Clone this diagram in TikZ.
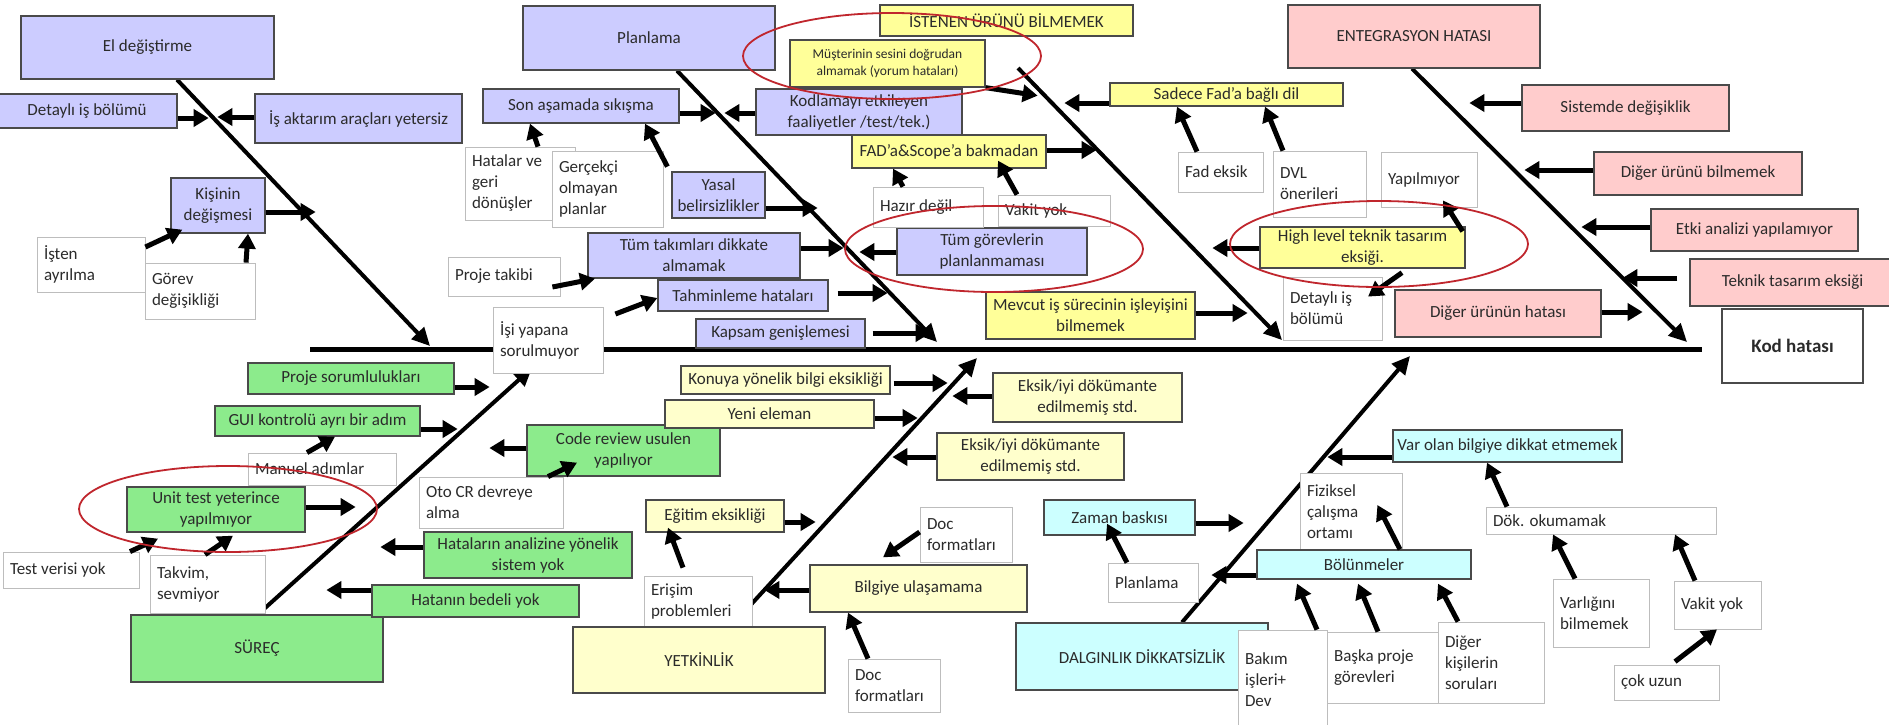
\documentclass[tikz,border=0pt]{standalone}
\usepackage{fontspec}
\setmainfont{Carlito}
\usetikzlibrary{arrows.meta,calc,shapes.geometric}
\pgfdeclarelayer{bones}
\pgfsetlayers{bones,main}

\definecolor{boxP}{HTML}{CCCCFF}
\definecolor{boxY}{HTML}{FFFF99}
\definecolor{boxL}{HTML}{FFFFCC}
\definecolor{boxK}{HTML}{FFCCCC}
\definecolor{boxG}{HTML}{8CEB8C}
\definecolor{boxC}{HTML}{CCFFFF}
\definecolor{edgegray}{HTML}{4A4A4A}
\definecolor{thingray}{HTML}{BDBDBD}
\definecolor{ink}{HTML}{2B2B2B}
\definecolor{redring}{HTML}{C0262D}

% coloured box: centred text, box given by its corners (x1,y1,x2,y2) in pixel units
\newcommand\boxC[7]{%
  \pgfmathsetmacro\bxw{#5-#3}\pgfmathsetmacro\bxh{#6-#4}%
  \pgfmathsetmacro\bxx{(#3+#5)/2}\pgfmathsetmacro\bxy{(#4+#6)/2}%
  \node[#1,minimum width=\bxw pt,minimum height=\bxh pt] (#2) at (\bxx,\bxy) {#7};}
% white note box: left aligned text
\newcommand\boxW[7]{%
  \pgfmathsetmacro\bxw{#5-#3-14}\pgfmathsetmacro\bxh{#6-#4}%
  \pgfmathsetmacro\bxx{(#3+#5)/2}\pgfmathsetmacro\bxy{(#4+#6)/2}%
  \node[#1,text width=\bxw pt,minimum height=\bxh pt] (#2) at (\bxx,\bxy) {#7};}

\tikzset{
  cbase/.style={draw=edgegray,line width=1.3pt,text=ink,align=center,inner sep=2pt,
    font=\fontsize{17}{21}\selectfont},
  purp/.style={cbase,fill=boxP},
  yel/.style={cbase,fill=boxY},
  ltyel/.style={cbase,fill=boxL},
  pink/.style={cbase,fill=boxK},
  grn/.style={cbase,fill=boxG},
  cyn/.style={cbase,fill=boxC},
  wbox/.style={draw=thingray,line width=0.8pt,fill=white,text=ink,align=flush left,
    inner xsep=7pt,inner ysep=2pt,font=\fontsize{17}{21}\selectfont},
  arr/.style={line width=5pt,-{Triangle[length=15pt,width=17pt]}},
  bone/.style={line width=4pt,-{Triangle[length=18pt,width=17pt]}},
  ring/.style={draw=redring,line width=1.8pt,ellipse,minimum width=298,minimum height=86}
}

\begin{document}
\begin{tikzpicture}[x=1pt,y=-1pt]
\useasboundingbox (0,0) rectangle (1889,724);

% ---------- head ----------
\boxC{cbase,fill=white,font=\bfseries\fontsize{19}{23}\selectfont}{kod}{1722}{309}{1863}{383}{Kod hatası}

% ---------- upper causes: El değiştirme ----------
\boxC{purp}{elchg}{21}{16}{274}{79}{El değiştirme}
\boxC{purp}{detay1}{-3}{94}{177}{128}{Detaylı iş bölümü}
\boxC{purp}{isakt}{255}{94}{462}{143}{İş aktarım araçları yetersiz}
\boxC{purp}{kisinin}{171}{178}{265}{233}{Kişinin\\değişmesi}
\boxW{wbox}{isten}{37}{237}{145}{292}{İşten\\ayrılma}
\boxW{wbox}{gorev}{145}{263}{255}{319}{Görev\\değişikliği}

% ---------- upper causes: Planlama ----------
\boxC{purp}{planlama}{523}{6}{775}{70}{Planlama}
\boxC{purp}{sonasama}{483}{89}{679}{123}{Son aşamada sıkışma}
\boxC{purp}{kodlama}{756}{89}{962}{135}{Kodlamayı etkileyen\\faaliyetler /test/tek.)}
\boxW{wbox}{hatalar}{465}{147}{575}{220}{Hatalar ve\\geri\\dönüşler}
\boxW{wbox}{gercekci}{552}{151}{663}{227}{Gerçekçi\\olmayan\\planlar}
\boxC{purp}{yasal}{672}{172}{765}{218}{Yasal\\belirsizlikler}
\boxC{purp}{tumtak}{588}{233}{800}{278}{Tüm takımları dikkate\\almamak}
\boxC{purp}{tumgor}{897}{228}{1087}{275}{Tüm görevlerin\\planlanmaması}
\boxW{wbox}{projetak}{448}{257}{560}{296}{Proje takibi}
\boxC{purp}{tahmin}{658}{280}{828}{311}{Tahminleme hataları}
\boxW{wbox}{isiyapana}{493}{307}{603}{373}{İşi yapana\\sorulmuyor}
\boxC{purp}{kapsam}{696}{319}{865}{348}{Kapsam genişlemesi}

% ---------- upper causes: İstenen ürünü bilmemek ----------
\boxC{yel}{istenen}{880}{5}{1133}{36}{İSTENEN ÜRÜNÜ BİLMEMEK}
\boxC{yel,font=\fontsize{13.5}{17}\selectfont}{musteri}{790}{40}{985}{87}{Müşterinin sesini doğrudan\\almamak (yorum hataları)}
\boxC{yel}{sadece}{1110}{83}{1343}{106}{Sadece Fad'a bağlı dil}
\boxC{yel}{fad}{852}{135}{1046}{168}{FAD'a\&Scope'a bakmadan}
\boxW{wbox}{hazir}{873}{187}{983}{227}{Hazır değil}
\boxW{wbox}{vakit1}{998}{195}{1110}{226}{Vakit yok}
\boxW{wbox}{fadeksik}{1178}{152}{1263}{192}{Fad eksik}
\boxW{wbox}{dvl}{1273}{151}{1366}{217}{DVL\\önerileri}
\boxW{wbox}{yapilmiyor}{1381}{152}{1477}{207}{Yapılmıyor}
\boxC{yel}{highlvl}{1260}{227}{1465}{268}{High level teknik tasarım\\eksiği.}
\boxW{wbox}{detay2}{1283}{277}{1382}{340}{Detaylı iş\\bölümü}
\boxC{yel}{mevcut}{986}{292}{1195}{339}{Mevcut iş sürecinin işleyişini\\bilmemek}

% ---------- upper causes: Entegrasyon hatası ----------
\boxC{pink}{entegr}{1288}{5}{1540}{68}{ENTEGRASYON HATASI}
\boxC{pink}{sistemde}{1522}{85}{1729}{131}{Sistemde değişiklik}
\boxC{pink}{digerurun}{1594}{152}{1802}{195}{Diğer ürünü bilmemek}
\boxC{pink}{etki}{1651}{209}{1858}{251}{Etki analizi yapılamıyor}
\boxC{pink}{teknik}{1690}{259}{1895}{306}{Teknik tasarım eksiği}
\boxC{pink}{digerhata}{1395}{290}{1601}{337}{Diğer ürünün hatası}

% ---------- lower causes: Süreç ----------
\boxC{grn}{projesor}{248}{363}{454}{394}{Proje sorumlulukları}
\boxC{grn}{gui}{215}{406}{420}{436}{GUI kontrolü ayrı bir adım}
\boxW{wbox}{manuel}{248}{453}{396}{485}{Manuel adımlar}
\boxC{grn}{unittest}{127}{487}{305}{532}{Unit test yeterince\\yapılmıyor}
\boxW{wbox}{testveri}{3}{552}{139}{588}{Test verisi yok}
\boxW{wbox}{takvim}{150}{555}{265}{613}{Takvim,\\sevmiyor}
\boxC{grn}{surec}{131}{615}{383}{682}{SÜREÇ}
\boxW{wbox}{otocr}{419}{477}{563}{528}{Oto CR devreye\\alma}
\boxC{grn}{codereview}{527}{425}{720}{476}{Code review usulen\\yapılıyor}
\boxC{grn}{hatanaliz}{424}{532}{632}{578}{Hataların analizine yönelik\\sistem yok}
\boxC{grn}{hatabedel}{372}{585}{579}{617}{Hatanın bedeli yok}

% ---------- lower causes: Yetkinlik ----------
\boxC{ltyel}{konuya}{681}{366}{890}{394}{Konuya yönelik bilgi eksikliği}
\boxC{ltyel}{yeni}{665}{400}{874}{428}{Yeni eleman}
\boxC{ltyel}{eksik1}{993}{373}{1182}{422}{Eksik/iyi dökümante\\edilmemiş std.}
\boxC{ltyel}{eksik2}{937}{433}{1124}{480}{Eksik/iyi dökümante\\edilmemiş std.}
\boxC{ltyel}{egitim}{646}{500}{784}{532}{Eğitim eksikliği}
\boxW{wbox}{erisim}{644}{576}{752}{627}{Erişim\\problemleri}
\boxC{ltyel}{bilgiye}{810}{565}{1027}{612}{Bilgiye ulaşamama}
\boxW{wbox}{doc1}{920}{507}{1012}{562}{Doc\\formatları}
\boxW{wbox}{doc2}{848}{659}{940}{712}{Doc\\formatları}
\boxC{ltyel}{yetkin}{573}{627}{825}{693}{YETKİNLİK}

% ---------- lower causes: Dalgınlık ----------
\boxC{cyn}{zaman}{1044}{500}{1195}{535}{Zaman baskısı}
\boxW{wbox}{planlama2}{1108}{563}{1198}{602}{Planlama}
\boxW{wbox}{fiziksel}{1300}{473}{1402}{550}{Fiziksel\\çalışma\\ortamı}
\boxC{cyn}{bolun}{1257}{550}{1471}{579}{Bölünmeler}
\boxC{cyn}{varolan}{1393}{430}{1622}{462}{Var olan bilgiye dikkat etmemek}
\boxW{wbox}{dok}{1486}{507}{1716}{534}{Dök. okumamak}
\boxW{wbox}{varlik}{1553}{579}{1649}{647}{Varlığını\\bilmemek}
\boxW{wbox}{vakit2}{1674}{581}{1761}{629}{Vakit yok}
\boxW{wbox}{cokuzun}{1614}{665}{1719}{700}{çok uzun}
\boxC{cyn}{dalgin}{1016}{623}{1268}{690}{DALGINLIK DİKKATSİZLİK}
\boxW{wbox}{bakim}{1238}{630}{1327}{730}{Bakım\\işleri+\\Dev}
\boxW{wbox}{baska}{1327}{632}{1440}{703}{Başka proje\\görevleri}
\boxW{wbox}{digerkisi}{1438}{622}{1544}{703}{Diğer\\kişilerin\\soruları}

% ---------- spine and main bones (behind the boxes) ----------
\coordinate (s0) at (310,349);
\coordinate (s1) at (1702,349);
\coordinate (t1) at (430,346);
\coordinate (t2) at (937,342);
\coordinate (t3) at (1282,340);
\coordinate (t4) at (1687,342);
\coordinate (t5) at (532,368);
\coordinate (t6) at (977,358);
\coordinate (t7) at (1410,356);
\coordinate (h3) at (1018,68);
\begin{pgfonlayer}{bones}
  \fill[white] (0,0) rectangle (1889,724);
  \draw[line width=5pt] (s0) -- (s1);
  \draw[bone] (elchg.south -| 177,0) -- (t1);
  \draw[bone] (planlama.south -| 677,0) -- (t2);
  \draw[bone] (h3) -- (t3);
  \draw[bone] (entegr.south -| 1412,0) -- (t4);
  \draw[bone] (surec.north -| 258,0) -- (t5);
  \draw[bone] (yetkin.north -| 731,0) -- (t6);
  \draw[bone] (dalgin.north -| 1182,0) -- (t7);
\end{pgfonlayer}

% ---------- cause arrows: El değiştirme ----------
\draw[arr] (detay1.east |- 0,118) -- ++(31,0);
\draw[arr] (isakt.west |- 0,117) -- ++(-37,0);
\draw[arr] (kisinin.east |- 0,212) -- ++(50,0);
\draw[arr] (isten.east |- 0,247) -- ($(kisinin.south west)+(12,-4)$);
\draw[arr] (gorev.north -| 246,0) -- (kisinin.south -| 248,0);

% ---------- cause arrows: Planlama ----------
\draw[arr] (sonasama.east |- 0,113) -- ++(36,0);
\draw[arr] (kodlama.west |- 0,113) -- ++(-31,0);
\draw[arr] (hatalar.north -| 538,0) -- (sonasama.south -| 530,0);
\draw[arr] ($(gercekci.north east)+(4,16)$) -- (sonasama.south -| 645,0);
\draw[arr] (yasal.east |- 0,208) -- ++(52,0);
\draw[arr] (tumtak.east |- 0,248) -- ++(43,0);
\draw[arr] (tumgor.west |- 0,252) -- ++(-37,0);
\draw[arr] ($(projetak.east |- 0,287)+(-8,0)$) -- (tumtak.south -| 595,0);
\draw[arr] ($(tahmin.east |- 0,293)+(9,0)$) -- ++(50,0);
\draw[arr] ($(isiyapana.east |- 0,314)+(12,0)$) -- (tahmin.west |- 0,298);
\draw[arr] ($(kapsam.east |- 0,333)+(7,0)$) -- ++(58,0);

% ---------- cause arrows: İstenen ürünü bilmemek ----------
\draw[arr] (musteri.south east) -- ++(52,8);
\draw[arr] (sadece.west |- 0,103) -- ++(-45,0);
\draw[arr] (fad.east |- 0,150) -- ++(50,0);
\draw[arr] (hazir.north -| 903,0) -- (fad.south -| 893,0);
\draw[arr] (vakit1.north -| 1017,0) -- ($(fad.south -| 998,0)+(0,-8)$);
\draw[arr] (fadeksik.north -| 1197,0) -- (sadece.south -| 1177,0);
\draw[arr] (dvl.north -| 1283,0) -- (sadece.south -| 1265,0);
\draw[arr] (mevcut.east |- 0,313) -- ++(52,0);
\draw[arr] (highlvl.west |- 0,248) -- ++(-47,0);
\draw[arr] ($(highlvl.north east)+(-3,5)$) -- ($(yapilmiyor.south -| 1443,0)+(0,-7)$);
\draw[arr] ($(highlvl.south -| 1402,0)+(0,4)$) -- ($(detay2.north -| 1368,0)+(0,20)$);

% ---------- cause arrows: Entegrasyon hatası ----------
\draw[arr] (sistemde.west |- 0,103) -- ++(-52,0);
\draw[arr] (digerurun.west |- 0,170) -- ++(-69,0);
\draw[arr] (etki.west |- 0,227) -- ++(-69,0);
\draw[arr] ($(teknik.west |- 0,278)+(-12,0)$) -- ++(-55,0);
\draw[arr] (digerhata.east |- 0,312) -- ++(41,0);

% ---------- cause arrows: Süreç ----------
\draw[arr] (projesor.east |- 0,387) -- ++(35,0);
\draw[arr] (gui.east |- 0,429) -- ++(37,0);
\draw[arr] (manuel.north -| 307,0) -- (gui.south -| 335,0);
\draw[arr] (unittest.east |- 0,507) -- ++(50,0);
\draw[arr] (testveri.north -| 130,0) -- ($(unittest.south -| 158,0)+(0,6)$);
\draw[arr] (takvim.north -| 205,0) -- ($(unittest.south -| 233,0)+(0,3)$);
\draw[arr] (codereview.west |- 0,448) -- ++(-37,0);
\draw[arr] (otocr.north -| 548,0) -- ($(codereview.south -| 577,0)+(0,-14)$);
\draw[arr] (hatanaliz.west |- 0,547) -- ++(-43,0);
\draw[arr] (hatabedel.west |- 0,590) -- ++(-45,0);

% ---------- cause arrows: Yetkinlik ----------
\draw[arr] ($(konuya.east |- 0,383)+(3,0)$) -- ++(54,0);
\draw[arr] (yeni.east |- 0,418) -- ++(43,0);
\draw[arr] (eksik1.west |- 0,396) -- ++(-40,0);
\draw[arr] (eksik2.west |- 0,457) -- ++(-44,0);
\draw[arr] (egitim.east |- 0,522) -- ++(31,0);
\draw[arr] ($(erisim.north -| 683,0)+(0,-8)$) -- ($(egitim.south -| 668,0)+(0,-5)$);
\draw[arr] (bilgiye.west |- 0,590) -- ++(-45,0);
\draw[arr] (doc1.west |- 0,532) -- ($(bilgiye.north -| 883,0)+(0,-7)$);
\draw[arr] (doc2.north -| 868,0) -- (bilgiye.south -| 848,0);

% ---------- cause arrows: Dalgınlık ----------
\draw[arr] (zaman.east |- 0,523) -- ++(48,0);
\draw[arr] (planlama2.north -| 1127,0) -- ($(zaman.south -| 1107,0)+(0,-12)$);
\draw[arr] (bolun.west |- 0,575) -- ++(-45,0);
\draw[arr] (bolun.north -| 1400,0) -- ($(fiziksel.east |- 0,505)+(-25,0)$);
\draw[arr] (bakim.north -| 1317,0) -- ($(bolun.south -| 1297,0)+(0,4)$);
\draw[arr] (baska.north -| 1378,0) -- ($(bolun.south -| 1358,0)+(0,4)$);
\draw[arr] (digerkisi.north -| 1458,0) -- ($(bolun.south -| 1438,0)+(0,4)$);
\draw[arr] (varolan.west |- 0,457) -- ++(-65,0);
\draw[arr] (dok.north -| 1507,0) -- (varolan.south -| 1487,0);
\draw[arr] (varlik.north -| 1575,0) -- (dok.south -| 1553,0);
\draw[arr] (vakit2.north -| 1695,0) -- (dok.south -| 1675,0);
\draw[arr] ($(cokuzun.north -| 1675,0)+(0,-3)$) -- (vakit2.south -| 1717,0);

% ---------- highlighted causes ----------
\node[ring] (ring1) at (892,56) {};
\node[ring] (ring2) at (994,249) {};
\node[ring] (ring3) at (1379,244) {};
\node[ring] (ring4) at (228,509) {};
\end{tikzpicture}
\end{document}
